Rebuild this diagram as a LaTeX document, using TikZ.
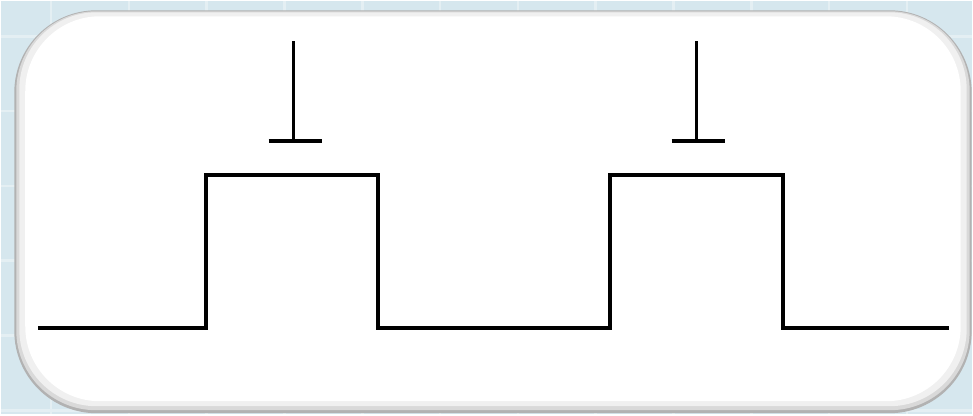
\documentclass[tikz,border=0pt]{standalone}
\usepackage{tikz}
\definecolor{tilebg}{HTML}{D6E7EE}
\definecolor{tileline}{HTML}{E4EFF3}
\begin{document}
\begin{tikzpicture}[x=0.02cm,y=-0.02cm]
  \tikzset{
    signal/.style={line width=2.3pt, line join=miter},
    gatebar/.style={line width=2.7pt},
    gatestem/.style={line width=1.9pt}
  }
  % Background tiles
  \fill[tilebg] (0,0) rectangle (973,414);
  \foreach \x in {50,128,206,284,362,440,518,596,674,752,830,908}
    \draw[tileline, line width=1.5pt] (\x,0) -- (\x,414);
  \foreach \y in {35,110,185,260,335,410}
    \draw[tileline, line width=1.5pt] (0,\y) -- (973,\y);
  % Panel with shaded rim
  \fill[gray!60, rounded corners=1.65cm] (13,9) rectangle (973,413);
  \fill[gray!30, rounded corners=1.6cm] (15,10) rectangle (971,410);
  \fill[gray!12, rounded corners=1.55cm] (18,11) rectangle (968,406);
  \fill[white, rounded corners=1.5cm] (24,15) rectangle (962,401);
  % Pulse train
  \draw[signal] (37,328) -- (205,328) -- (205,174) -- (378,174) -- (378,328)
    -- (610,328) -- (610,174) -- (784,174) -- (784,328) -- (950,328);
  % Gates above each pulse
  \foreach \gx/\name in {293/first,697/second} {
    \coordinate (\name top) at (\gx,40);
    \coordinate (\name base) at (\gx,140);
    \draw[gatestem] (\name top) -- (\name base);
    \draw[gatebar] ([xshift=-0.5cm]\name base) -- ([xshift=0.58cm]\name base);
  }
\end{tikzpicture}
\end{document}
